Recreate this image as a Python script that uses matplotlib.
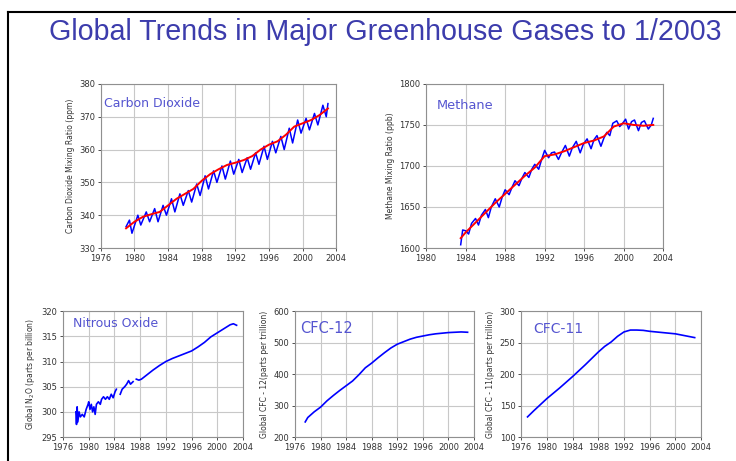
import numpy as np
import matplotlib.pyplot as plt
from matplotlib.lines import Line2D

# Dioxido de carbono: serie mensual (picos y valles) y tendencia
co2_year = [1979.0, 1979.4, 1979.7, 1980.4, 1980.75, 1981.4, 1981.8, 1982.4, 1982.8,
            1983.4, 1983.8, 1984.4, 1984.8, 1985.4, 1985.8, 1986.4, 1986.8, 1987.4,
            1987.8, 1988.4, 1988.8, 1989.4, 1989.8, 1990.4, 1990.8, 1991.4, 1991.8,
            1992.4, 1992.8, 1993.4, 1993.8, 1994.4, 1994.8, 1995.4, 1995.8, 1996.4,
            1996.8, 1997.4, 1997.8, 1998.4, 1998.8, 1999.4, 1999.8, 2000.4, 2000.8,
            2001.4, 2001.8, 2002.4, 2002.8, 2003.0]
co2_ppm = [336.5, 338.5, 334.5, 340.0, 337.0, 341.0, 338.0, 342.0, 338.0,
           343.0, 340.0, 345.0, 341.0, 346.5, 343.0, 347.5, 344.0, 349.5,
           346.0, 352.0, 348.0, 353.5, 350.0, 355.0, 351.0, 356.5, 352.5,
           357.0, 353.0, 357.5, 354.0, 359.0, 355.5, 361.0, 357.0, 362.5,
           359.0, 364.0, 360.0, 366.5, 362.0, 369.0, 365.0, 369.5, 366.0,
           371.0, 367.5, 373.5, 370.0, 374.0]
co2_trend_year = [1979, 1980, 1981, 1982, 1983, 1984, 1985, 1986, 1987, 1988, 1989, 1990,
                  1991, 1992, 1993, 1994, 1995, 1996, 1997, 1998, 1999, 2000, 2001,
                  2002, 2003]
co2_trend = [336.0, 338.0, 339.5, 340.3, 341.0, 343.0, 345.0, 346.5, 348.0, 350.5,
             352.5, 354.0, 355.3, 356.0, 356.8, 358.0, 360.0, 361.5, 362.5, 364.5,
             367.0, 368.0, 369.0, 370.5, 372.5]

# Metano
ch4_year = [1983.5, 1983.7, 1984.0, 1984.3, 1984.6, 1985.0, 1985.3, 1985.6, 1986.0,
            1986.3, 1986.6, 1987.0, 1987.4, 1987.7, 1988.0, 1988.4, 1988.7, 1989.0,
            1989.4, 1989.7, 1990.0, 1990.4, 1990.7, 1991.0, 1991.4, 1991.7, 1992.0,
            1992.4, 1992.7, 1993.0, 1993.4, 1993.7, 1994.1, 1994.5, 1994.8, 1995.2,
            1995.6, 1995.9, 1996.3, 1996.7, 1997.0, 1997.3, 1997.7, 1998.0, 1998.3,
            1998.6, 1998.9, 1999.3, 1999.6, 1999.9, 2000.2, 2000.5, 2000.8, 2001.1,
            2001.5, 2001.8, 2002.1, 2002.5, 2002.8, 2003.0]
ch4_ppb = [1604, 1622, 1621, 1617, 1630, 1636, 1628, 1640, 1647,
           1637, 1650, 1660, 1650, 1662, 1671, 1665, 1674, 1682,
           1676, 1685, 1692, 1686, 1696, 1702, 1696, 1708, 1719,
           1710, 1716, 1717, 1708, 1716, 1725, 1712, 1722, 1730,
           1716, 1726, 1733, 1721, 1732, 1737, 1724, 1734, 1741,
           1737, 1752, 1755, 1748, 1752, 1757, 1745, 1754, 1756,
           1743, 1753, 1755, 1745, 1750, 1758]
ch4_trend_year = [1983.5, 1984, 1985, 1986, 1987, 1988, 1989, 1990, 1991, 1992, 1993,
                  1994, 1995, 1996, 1997, 1998, 1999, 2000, 2001, 2002, 2003]
ch4_trend = [1612, 1619, 1631, 1643, 1655, 1666, 1677, 1688, 1698, 1712, 1714,
             1718, 1723, 1728, 1731, 1736, 1748, 1752, 1750, 1749, 1750]

# Oxido nitroso (NaN = huecos en la serie)
n2o_year = [1978.0, 1978.1, 1978.2, 1978.3, 1978.5, 1978.7, 1979.0, 1979.3, 1979.6,
            1979.9, 1980.0, 1980.2, 1980.4, 1980.6, 1980.8, 1981.0, 1981.2, 1981.5,
            1981.8, 1982.0, 1982.3, 1982.6, 1982.9, 1983.2, 1983.5, 1983.8, 1984.1,
            1984.3, 1984.6, 1984.9, 1985.2, 1985.6, 1985.9, 1986.2, 1986.5, 1986.9,
            1987.1, 1987.4, 1987.8, 1988.2, 1989.0, 1990.0, 1991.0, 1992.0, 1993.0,
            1994.0, 1995.0, 1996.0, 1997.0, 1998.0, 1999.0, 2000.0, 2001.0, 2001.5,
            2002.0, 2002.5, 2003.0]
n2o_ppb = [300.0, 297.5, 301.0, 298.0, 300.0, 299.0, 299.5, 299.0, 300.5,
           301.5, 302.0, 300.5, 301.5, 300.0, 301.0, 299.5, 301.5, 302.0,
           301.5, 302.5, 303.0, 302.5, 303.0, 302.5, 303.5, 302.8, 304.0,
           304.5, np.nan, 303.5, 304.5, 305.0, 305.5, 306.2, 305.5, 306.0,
           np.nan, 306.5, 306.3, 306.5, 307.3, 308.3, 309.2, 310.0, 310.6,
           311.1, 311.6, 312.1, 312.9, 313.8, 314.9, 315.7, 316.5, 316.9,
           317.3, 317.5, 317.2]

# CFC-12 y CFC-11
cfc12_year = [1977.6, 1978, 1979, 1980, 1981, 1982, 1983, 1984, 1985, 1986, 1987, 1988,
              1989, 1990, 1991, 1992, 1993, 1994, 1995, 1996, 1997, 1998, 1999, 2000,
              2001, 2002, 2003]
cfc12_ppt = [248, 262, 280, 295, 315, 332, 348, 363, 378, 398, 420, 435,
             452, 468, 483, 495, 503, 511, 517, 521, 525, 528, 530, 532,
             533, 534, 533]
cfc11_year = [1977.0, 1978, 1980, 1982, 1984, 1986, 1988, 1989, 1990, 1991, 1992, 1993,
              1994, 1995, 1996, 1998, 2000, 2001, 2002, 2003]
cfc11_ppt = [132, 142, 161, 178, 196, 215, 235, 244, 251, 260, 267, 270,
             270, 269.5, 268, 266, 264, 262, 260, 258]

BLUE = '#0000ff'
LABEL = '#5555d0'
fig = plt.figure(figsize=(7.36, 4.61), dpi=100)
fig.patch.set_facecolor('white')


def panel(rect, xlim, xticks, ylim, yticks, ylabel, name, npos, nsize):
    ax = fig.add_axes(rect)
    ax.set_xlim(*xlim)
    ax.set_ylim(*ylim)
    ax.set_xticks(xticks)
    ax.set_yticks(yticks)
    ax.grid(True, color='#c8c8c8', lw=0.8)
    ax.set_axisbelow(True)
    for s in ax.spines.values():
        s.set_color('#909090')
        s.set_linewidth(0.8)
    ax.tick_params(labelsize=6, colors='#333333', length=2, width=0.6, pad=2)
    ax.set_ylabel(ylabel, fontsize=5.5, color='#333333', labelpad=3)
    ax.text(npos[0], npos[1], name, transform=ax.transAxes, fontsize=nsize,
            color=LABEL, va='center', ha='left')
    return ax


ax1 = panel([0.137, 0.462, 0.320, 0.356], (1976, 2004), range(1976, 2005, 4),
            (330, 380), range(330, 381, 10), 'Carbon Dioxide Mixing Ratio (ppm)',
            'Carbon Dioxide', (0.015, 0.88), 9)
ax1.plot(co2_year, co2_ppm, color=BLUE, lw=1.1)
ax1.plot(co2_trend_year, co2_trend, color='#ff0000', lw=1.4)

ax2 = panel([0.579, 0.462, 0.322, 0.356], (1980, 2004), range(1980, 2005, 4),
            (1600, 1800), range(1600, 1801, 50), 'Methane Mixing Ratio (ppb)',
            'Methane', (0.045, 0.87), 9.3)
ax2.plot(ch4_year, ch4_ppb, color=BLUE, lw=1.1)
ax2.plot(ch4_trend_year, ch4_trend, color='#ff0000', lw=1.4)

ax3 = panel([0.0856, 0.052, 0.2446, 0.273], (1976, 2004), range(1976, 2005, 4),
            (295, 320), range(295, 321, 5), 'Global N$_2$O (parts per billion)',
            'Nitrous Oxide', (0.055, 0.9), 9)
ax3.plot(n2o_year, n2o_ppb, color=BLUE, lw=1.2)

ax4 = panel([0.4008, 0.052, 0.2432, 0.273], (1976, 2004), range(1976, 2005, 4),
            (200, 600), range(200, 601, 100), 'Global CFC - 12(parts per trillion)',
            'CFC-12', (0.03, 0.86), 10.5)
ax4.plot(cfc12_year, cfc12_ppt, color=BLUE, lw=1.2)

ax5 = panel([0.708, 0.052, 0.2446, 0.273], (1976, 2004), range(1976, 2005, 4),
            (100, 300), range(100, 301, 50), 'Global CFC - 11(parts per trillion)',
            'CFC-11', (0.065, 0.86), 10)
ax5.plot(cfc11_year, cfc11_ppt, color=BLUE, lw=1.2)

fig.text(0.523, 0.93, 'Global Trends in Major Greenhouse Gases to 1/2003',
         ha='center', va='center', fontsize=20.6, color='#3c3cac',
         family='Liberation Sans')

# marco negro arriba e izquierda
fig.add_artist(Line2D([0.0115, 0.0115], [0.0, 0.974], color='black', lw=1.5))
fig.add_artist(Line2D([0.0115, 1.0], [0.974, 0.974], color='black', lw=1.5))

fig.savefig('out.png', dpi=100)
